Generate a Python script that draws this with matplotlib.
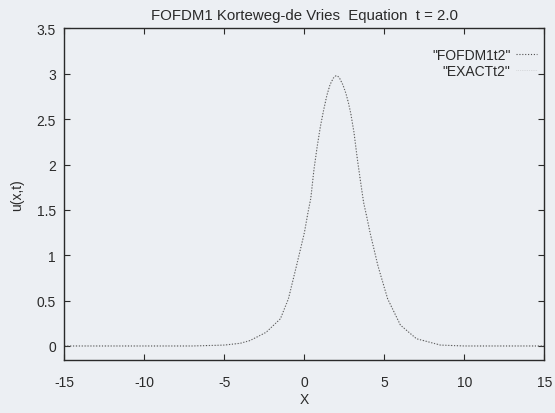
import matplotlib
matplotlib.use("Agg")
from matplotlib import pyplot as plt

plt.rcParams['font.family'] = ['Liberation Sans', 'DejaVu Sans']
plt.rcParams['axes.unicode_minus'] = False

# values (u at t = 2.0)
x_num = [-15, -13, -11, -9, -7, -5, -4, -3.4, -2.4, -1.5, -1.0, -0.5, 0.0,
         0.2, 0.4, 0.6, 0.8, 1.0, 1.2, 1.4, 1.6, 1.8, 1.9, 2.0, 2.1, 2.2,
         2.4, 2.6, 2.75, 2.9, 3.1, 3.3, 3.5, 3.7, 3.9, 4.1, 4.6, 5.2, 6.0,
         7.0, 8.5, 10, 12, 13.5, 15]
u_num = [0.0, 0.0, 0.0, 0.0, 0.0, 0.01, 0.03, 0.06, 0.15, 0.30, 0.52, 0.88,
         1.25, 1.45, 1.63, 1.95, 2.2, 2.42, 2.6, 2.76, 2.88, 2.95, 2.97,
         2.98, 2.97, 2.95, 2.88, 2.78, 2.68, 2.56, 2.35, 2.07, 1.82, 1.58,
         1.42, 1.25, 0.88, 0.52, 0.23, 0.08, 0.01, 0.0, 0.0, 0.0, 0.0]
x_exact = x_num
u_exact = u_num

bg = "#eceff3"
ink = "#2a2a2a"
fs = 10

fig = plt.figure(figsize=(5.55, 4.14), dpi=100, facecolor=bg)
ax = fig.add_axes([0.116, 0.129, 0.865, 0.800], facecolor=bg)

ax.plot(x_num, u_num, linestyle=(0, (1, 1.6)), color="#505050",
        linewidth=0.8, label='"FOFDM1t2"')
ax.plot(x_exact, u_exact, linestyle=(0, (1, 1.6)), color="#9a9a9a",
        linewidth=0.5, alpha=0.5, label='"EXACTt2"')

ax.set_xlim(-15, 15)
ax.set_ylim(-0.15, 3.5)
ax.set_xticks(range(-15, 16, 5))
ax.set_yticks([0, 0.5, 1, 1.5, 2, 2.5, 3, 3.5])
ax.set_yticklabels(["0", "0.5", "1", "1.5", "2", "2.5", "3", "3.5"])
ax.tick_params(direction="in", top=True, right=True, length=4, width=0.8,
               colors=ink, labelsize=fs)
ax.tick_params(axis="x", pad=11)
ax.tick_params(axis="y", pad=6)
for s in ax.spines.values():
    s.set_color(ink)
    s.set_linewidth(1.0)

ax.set_title("FOFDM1 Korteweg-de Vries  Equation  t = 2.0", fontsize=10.8,
             color=ink, pad=7)
ax.set_xlabel("X", fontsize=fs, color=ink, labelpad=2)
ax.set_ylabel("u(x,t)", fontsize=fs, color=ink, labelpad=9)

leg = ax.legend(loc="upper right", frameon=False, markerfirst=False,
                handlelength=1.5, handletextpad=0.4, labelspacing=0.2,
                fontsize=fs, bbox_to_anchor=(1.01, 0.98))
for t in leg.get_texts():
    t.set_color(ink)

fig.savefig("out.png", dpi=100, facecolor=bg)
